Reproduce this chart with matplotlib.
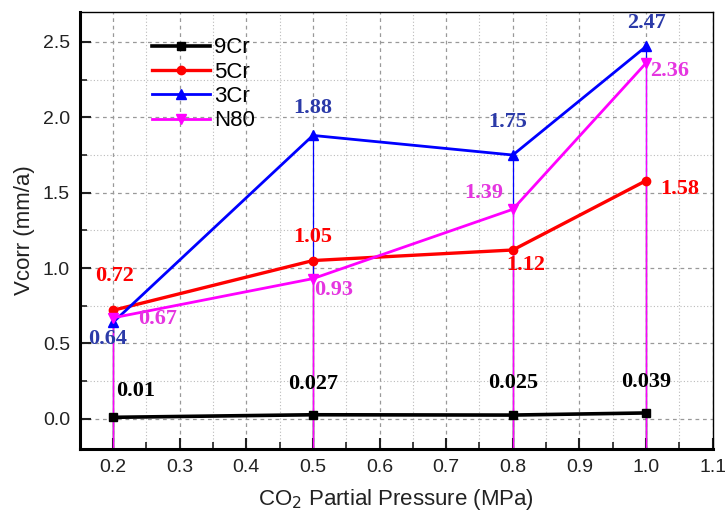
import numpy as np
import matplotlib
matplotlib.use("Agg")
import matplotlib.pyplot as plt
from matplotlib.ticker import MultipleLocator

########################################################
# DATA

pressure = [0.2, 0.5, 0.8, 1.0]  # CO2 partial pressure (MPa)

v_9cr = [0.01, 0.027, 0.025, 0.039]
v_5cr = [0.72, 1.05, 1.12, 1.58]
v_3cr = [0.64, 1.88, 1.75, 2.47]
v_n80 = [0.67, 0.93, 1.39, 2.36]

labels_9cr = ["0.01", "0.027", "0.025", "0.039"]
labels_5cr = ["0.72", "1.05", "1.12", "1.58"]
labels_3cr = ["0.64", "1.88", "1.75", "2.47"]
labels_n80 = ["0.67", "0.93", "1.39", "2.36"]

# label offsets (points) relative to each data point
off_9cr = [(16, 19), (0, 22), (0, 23), (0, 22)]
off_5cr = [(1, 25), (0, 17), (9, -11), (24, -6)]
off_3cr = [(-4, -12), (0, 20), (-4, 24), (0, 17)]
off_n80 = [(32, -1), (15, -8), (-21, 12), (17, -6)]

########################################################
# PLOTTING

plt.rcParams['font.family'] = ['Liberation Sans', 'DejaVu Sans']

fig = plt.figure(figsize=(7.25, 5.14), dpi=100)
ax = fig.add_axes([0.110, 0.1265, 0.873, 0.8505])

ymin = -0.2
series = [
    ("9Cr", v_9cr, labels_9cr, off_9cr, "black", "black", "s", 6, 2.6),
    ("5Cr", v_5cr, labels_5cr, off_5cr, "red", "red", "o", 6, 2.4),
    ("3Cr", v_3cr, labels_3cr, off_3cr, "blue", "#2b3aa8", "^", 7, 2.0),
    ("N80", v_n80, labels_n80, off_n80, "magenta", "#e535e0", "v", 7, 2.0),
]

for name, vals, labs, offs, col, tcol, mk, ms, lw in series:
    # drop lines down to the bottom of the axes
    ax.vlines(pressure, ymin, vals, colors=col, linewidth=0.9, zorder=2)

for name, vals, labs, offs, col, tcol, mk, ms, lw in series:
    ax.plot(pressure, vals, color=col, marker=mk, markersize=ms,
            linewidth=lw, label=name, zorder=3)
    for x, y, s, o in zip(pressure, vals, labs, offs):
        ax.annotate(s, (x, y), xytext=o, textcoords="offset points",
                    ha="center", va="center", color=tcol, fontsize=16,
                    fontweight="bold", family="Liberation Serif", zorder=4)

ax.set_xlim(0.15, 1.1)
ax.set_ylim(ymin, 2.7)
ax.xaxis.set_minor_locator(MultipleLocator(0.05))
ax.yaxis.set_major_locator(MultipleLocator(0.5))
ax.yaxis.set_minor_locator(MultipleLocator(0.25))
ax.set_xticks(np.arange(0.2, 1.11, 0.1))
ax.set_xticklabels(["%.1f" % v for v in np.arange(0.2, 1.11, 0.1)])

ax.tick_params(which="both", direction="in", colors="#222222", labelsize=14)
ax.tick_params(which="major", length=8, width=1.5, pad=7)
ax.tick_params(which="minor", length=5, width=1.2)

ax.grid(which="major", linestyle=(0, (3, 3)), color="#999999", linewidth=0.9)
ax.grid(which="minor", linestyle=(0, (1, 2)), color="#bbbbbb", linewidth=0.8)
ax.set_axisbelow(True)

ax.spines["left"].set_linewidth(2.2)
ax.spines["bottom"].set_linewidth(2.2)
ax.spines["top"].set_linewidth(1.0)
ax.spines["right"].set_linewidth(1.0)

ax.set_xlabel("CO$_2$ Partial Pressure (MPa)", fontsize=16, color="#222222",
              labelpad=8)
ax.set_ylabel("Vcorr (mm/a)", fontsize=16, color="#222222", labelpad=6)

ax.legend(loc="upper left", bbox_to_anchor=(0.1, 0.962), frameon=False,
          fontsize=16, handlelength=2.6, handletextpad=0.2,
          labelspacing=0.15, borderaxespad=0)

fig.savefig("out.png", dpi=100)
